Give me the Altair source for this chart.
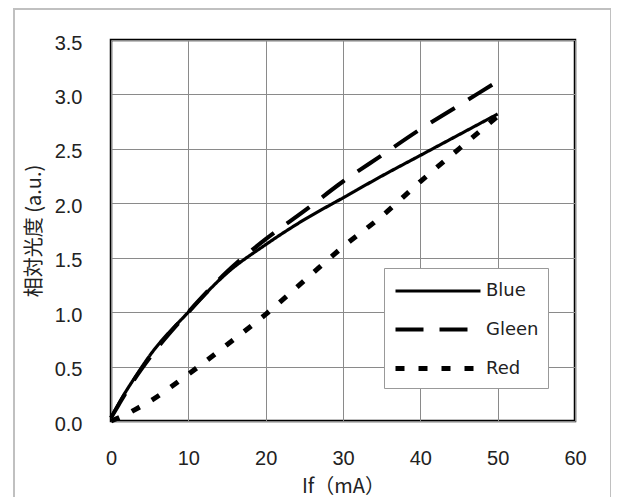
import altair as alt
import pandas as pd

# Forward current If (mA)
x_vals = [0, 1, 2, 3, 5, 10, 15, 20, 25, 30, 35, 40, 45, 50]
blue = [0.03, 0.16, 0.28, 0.39, 0.60, 1.00, 1.36, 1.62, 1.85, 2.05, 2.25, 2.44, 2.63, 2.82]
gleen = [0.03, 0.15, 0.27, 0.38, 0.58, 1.00, 1.37, 1.67, 1.93, 2.20, 2.44, 2.68, 2.90, 3.12]
red = [0.00, 0.03, 0.06, 0.10, 0.18, 0.43, 0.70, 0.98, 1.29, 1.60, 1.88, 2.20, 2.50, 2.80]

series_names = ["Blue", "Gleen", "Red"]
x_ticks = [0, 10, 20, 30, 40, 50, 60]
y_ticks = [0.0, 0.5, 1.0, 1.5, 2.0, 2.5, 3.0, 3.5]

rows = []
for name, vals in zip(series_names, [blue, gleen, red]):
    for xv, yv in zip(x_vals, vals):
        rows.append({"If": xv, "L": yv, "Series": name})
df = pd.DataFrame(rows)

lines = alt.Chart(df).mark_line(color="black", interpolate="monotone", strokeCap="butt").encode(
    x=alt.X("If:Q", scale=alt.Scale(domain=[0, 60], nice=False),
            axis=alt.Axis(values=x_ticks, title="If（mA）", format="d")),
    y=alt.Y("L:Q", scale=alt.Scale(domain=[0, 3.5], nice=False),
            axis=alt.Axis(values=y_ticks, title="相対光度 (a.u.)", format=".1f")),
    strokeDash=alt.StrokeDash(
        "Series:N",
        scale=alt.Scale(domain=series_names, range=[[1, 0], [28, 16], [9, 14]]),
        legend=alt.Legend(
            title=None, orient="none", legendX=273, legendY=228,
            symbolType="M-1,0H6.083", symbolSize=576, symbolStrokeWidth=4,
            symbolStrokeColor="black", labelOffset=64,
            labelFontSize=18, labelFont="DejaVu Sans", labelColor="#222",
            rowPadding=15, padding=9, fillColor="white",
            strokeColor="#999", cornerRadius=0,
        ),
    ),
    strokeWidth=alt.StrokeWidth(
        "Series:N",
        scale=alt.Scale(domain=series_names, range=[3.2, 5, 5]),
        legend=None,
    ),
)

frame = alt.Chart(pd.DataFrame({"k": [0]})).mark_rect(
    filled=False, stroke="#c0c0c0", strokeWidth=2
).encode(
    x=alt.value(-97), x2=alt.value(500), y=alt.value(-31), y2=alt.value(490)
)

chart = alt.layer(frame, lines).properties(
    width=464, height=381,
    padding={"left": 103, "top": 32, "right": 36, "bottom": 82},
    autosize=alt.AutoSizeParams(type="none"),
    background="white",
).configure_view(
    stroke="black", strokeWidth=2.5
).configure_axis(
    grid=True, gridColor="#8a8a8a", gridWidth=1, domain=False, ticks=False,
    labelFlush=False, labelOverlap=False,
    labelFont="Liberation Sans", labelFontSize=20, labelColor="#222",
    titleFont="Noto Sans CJK JP", titleFontWeight="normal",
    titleColor="#222",
).configure_axisX(
    labelPadding=27, titlePadding=8, titleFontSize=20,
).configure_axisY(
    labelPadding=29, labelOffset=3, titlePadding=10, titleFontSize=20,
)

chart.save("out.html", embed_options={"renderer": "svg", "actions": False})
